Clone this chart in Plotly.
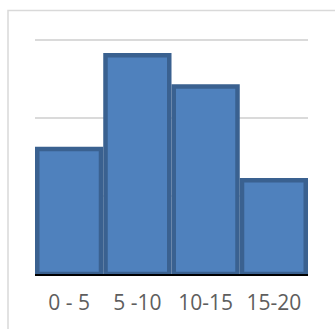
import plotly.graph_objects as go

# Frequency of observations per class interval
bins = ["0 - 5", "5 -10", "10-15", "15-20"]
counts = [4, 7, 6, 3]
y_ticks = [0, 2.5, 5, 7.5]

W, H = 335, 329
ML, MR, MT, MB = 35, 27, 38, 55

fig = go.Figure(
    go.Bar(
        x=bins,
        y=counts,
        marker=dict(color="#4F81BD", line=dict(color="#3A6190", width=4.5)),
        hoverinfo="skip",
    )
)

pw = W - ML - MR
ph = H - MT - MB

# light frame around the chart area
fig.add_shape(
    type="rect",
    xref="paper", yref="paper",
    x0=(8 - ML) / pw, x1=(W + 10 - ML) / pw,
    y0=-(MB + 10) / ph, y1=1 + (MT - 10.5) / ph,
    line=dict(color="#d9d9d9", width=1.5),
    fillcolor="rgba(0,0,0,0)",
    layer="below",
)

fig.update_layout(
    width=W, height=H,
    margin=dict(l=ML, r=MR, t=MT, b=MB),
    paper_bgcolor="white",
    plot_bgcolor="white",
    bargap=0.066,
    showlegend=False,
    font=dict(family="Open Sans", color="#606060"),
)
fig.update_xaxes(
    showline=True, linecolor="black", linewidth=2,
    ticks="", showgrid=False,
    tickfont=dict(size=21, color="#5e5e5e", family="Open Sans"),
    ticklabelstandoff=9,
    fixedrange=True,
)
fig.update_yaxes(
    range=[0, 7.55], tickvals=y_ticks, showticklabels=False,
    showgrid=True, gridcolor="#dadada", gridwidth=1.5,
    zeroline=False, showline=False, fixedrange=True,
)

fig.write_html("out.html", config={"displayModeBar": False})
